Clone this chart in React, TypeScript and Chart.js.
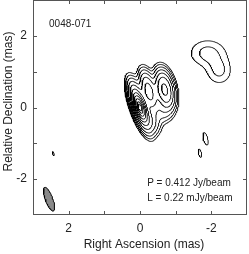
import React, { useEffect, useRef } from "react";
import { Chart, registerables } from "chart.js";

Chart.register(...registerables);

// ---------- text ----------
const xAxisTitle = "Right Ascension (mas)";
const yAxisTitle = "Relative Declination (mas)";
const annotationText = ["0048-071", "P = 0.412 Jy/beam", "L = 0.22 mJy/beam"];
const annotationX = [2.55, -0.2, -0.2];
const annotationY = [2.31, -2.12, -2.54];

// ---------- axes ----------
const axisMin = -3;
const axisMax = 3;
const tickValues = [-3, -2, -1, 0, 1, 2, 3];
const labeledTicks = [-2, 0, 2];

// ---------- contour levels (L x 2^n, mJy/beam) ----------
const lowestContour = 0.22;
const contourFactors = [1, 2, 4, 8, 16, 32, 64, 128, 256, 512, 1024];

// ---------- brightness model (mas, mJy/beam, deg) ----------
const compX = [0.0, 0.0, 0.0, -0.3, -0.25, -0.69, -0.64, -1.9, -2.22, -1.84, -1.68, 2.43];
const compY = [0.0, 0.0, 0.02, -0.35, 0.45, 0.5, -0.1, 1.52, 1.02, -0.87, -1.28, -1.29];
const compPeak = [250, 140, 22, 2.5, 10, 17, 1.2, 0.55, 0.5, 0.27, 0.24, 0.226];
const compMajor = [0.16, 0.38, 0.78, 0.5, 0.66, 0.62, 0.45, 0.59, 0.59, 0.64, 0.64, 0.64];
const compMinor = [0.07, 0.14, 0.24, 0.3, 0.26, 0.3, 0.35, 0.8, 0.55, 0.21, 0.21, 0.21];
const compPA = [19, 19, 19, 20, 15, 12, 0, 0, 0, 15, 15, 19];

// ---------- restoring beam ----------
const beamX = 2.55;
const beamY = -2.56;
const beamMajor = 0.7;
const beamMinor = 0.21;
const beamPA = 20;

const GRID_STEP = 0.015;
const FONT = '"Liberation Sans", Arial, sans-serif';

type P = { x: number; y: number };

function buildImage() {
  const n = Math.round((axisMax - axisMin) / GRID_STEP) + 1;
  const img = new Float64Array(n * n);
  for (let c = 0; c < compX.length; c++) {
    const sa = compMajor[c] / 2.3548;
    const sb = compMinor[c] / 2.3548;
    const th = (compPA[c] * Math.PI) / 180;
    const s = Math.sin(th);
    const co = Math.cos(th);
    const r = 5 * Math.max(sa, sb);
    const i0 = Math.max(0, Math.floor((compX[c] - r - axisMin) / GRID_STEP));
    const i1 = Math.min(n - 1, Math.ceil((compX[c] + r - axisMin) / GRID_STEP));
    const j0 = Math.max(0, Math.floor((compY[c] - r - axisMin) / GRID_STEP));
    const j1 = Math.min(n - 1, Math.ceil((compY[c] + r - axisMin) / GRID_STEP));
    for (let j = j0; j <= j1; j++) {
      const dy = axisMin + j * GRID_STEP - compY[c];
      for (let i = i0; i <= i1; i++) {
        const dx = axisMin + i * GRID_STEP - compX[c];
        const a = dx * s + dy * co;
        const b = dx * co - dy * s;
        img[j * n + i] += compPeak[c] * Math.exp(-0.5 * ((a * a) / (sa * sa) + (b * b) / (sb * sb)));
      }
    }
  }
  return { img, n };
}

function contourLines(img: Float64Array, n: number, level: number): P[][] {
  const pts = new Map<number, P>();
  const adj = new Map<number, number[]>();
  const val = (i: number, j: number) => img[j * n + i];
  const hKey = (i: number, j: number) => (j * n + i) * 2;
  const vKey = (i: number, j: number) => (j * n + i) * 2 + 1;
  const pointFor = (key: number): P => {
    let p = pts.get(key);
    if (p) return p;
    const cell = key >> 1;
    const i = cell % n;
    const j = Math.floor(cell / n);
    if ((key & 1) === 0) {
      const v0 = val(i, j);
      const v1 = val(i + 1, j);
      const t = (level - v0) / (v1 - v0);
      p = { x: axisMin + (i + t) * GRID_STEP, y: axisMin + j * GRID_STEP };
    } else {
      const v0 = val(i, j);
      const v1 = val(i, j + 1);
      const t = (level - v0) / (v1 - v0);
      p = { x: axisMin + i * GRID_STEP, y: axisMin + (j + t) * GRID_STEP };
    }
    pts.set(key, p);
    return p;
  };
  const link = (k1: number, k2: number) => {
    pointFor(k1);
    pointFor(k2);
    if (!adj.has(k1)) adj.set(k1, []);
    if (!adj.has(k2)) adj.set(k2, []);
    adj.get(k1)!.push(k2);
    adj.get(k2)!.push(k1);
  };
  for (let j = 0; j < n - 1; j++) {
    for (let i = 0; i < n - 1; i++) {
      const a = val(i, j), b = val(i + 1, j), c = val(i + 1, j + 1), d = val(i, j + 1);
      const A = a >= level, B = b >= level, C = c >= level, D = d >= level;
      if (A === B && B === C && C === D) continue;
      const e0 = hKey(i, j), e1 = vKey(i + 1, j), e2 = hKey(i, j + 1), e3 = vKey(i, j);
      const crossed: number[] = [];
      if (A !== B) crossed.push(e0);
      if (B !== C) crossed.push(e1);
      if (D !== C) crossed.push(e2);
      if (A !== D) crossed.push(e3);
      if (crossed.length === 2) {
        link(crossed[0], crossed[1]);
      } else if (crossed.length === 4) {
        const center = (a + b + c + d) / 4 >= level;
        if (center === A) {
          link(e0, e1);
          link(e2, e3);
        } else {
          link(e0, e3);
          link(e1, e2);
        }
      }
    }
  }
  const visited = new Set<number>();
  const lines: P[][] = [];
  const walk = (start: number) => {
    const keys = [start];
    visited.add(start);
    let cur = start;
    for (;;) {
      const nb = adj.get(cur)!;
      let next = -1;
      for (const k of nb) if (!visited.has(k)) { next = k; break; }
      if (next === -1) {
        if (keys.length > 2 && nb.includes(start)) keys.push(start);
        break;
      }
      visited.add(next);
      keys.push(next);
      cur = next;
    }
    lines.push(keys.map((k) => pts.get(k)!));
  };
  for (const [k, nb] of adj) if (nb.length === 1 && !visited.has(k)) walk(k);
  for (const k of adj.keys()) if (!visited.has(k)) walk(k);
  return lines;
}

function beamOutline(): P[] {
  const th = (beamPA * Math.PI) / 180;
  const s = Math.sin(th), c = Math.cos(th);
  const a = beamMajor / 2, b = beamMinor / 2;
  const out: P[] = [];
  for (let k = 0; k <= 60; k++) {
    const t = (k / 60) * Math.PI * 2;
    const u = a * Math.cos(t), v = b * Math.sin(t);
    out.push({ x: beamX + u * s + v * c, y: beamY + u * c - v * s });
  }
  return out;
}

const framePlugin = {
  id: "frameTicksText",
  afterDraw(chart: any) {
    const { ctx, chartArea, scales } = chart;
    const { left, right, top, bottom } = chartArea;
    const xs = scales.x, ys = scales.y;
    ctx.save();
    ctx.strokeStyle = "#555";
    ctx.lineWidth = 1;
    ctx.strokeRect(left + 0.5, top + 0.5, right - left - 1, bottom - top - 1);
    ctx.beginPath();
    for (const v of tickValues) {
      if (v === axisMin || v === axisMax) continue;
      const px = Math.round(xs.getPixelForValue(v)) + 0.5;
      ctx.moveTo(px, bottom);
      ctx.lineTo(px, bottom - 4);
      ctx.moveTo(px, top);
      ctx.lineTo(px, top + 4);
      const py = Math.round(ys.getPixelForValue(v)) + 0.5;
      ctx.moveTo(left, py);
      ctx.lineTo(left + 4, py);
      ctx.moveTo(right, py);
      ctx.lineTo(right - 4, py);
    }
    ctx.stroke();
    ctx.fillStyle = "#222";
    ctx.font = `10px ${FONT}`;
    ctx.textAlign = "left";
    ctx.textBaseline = "middle";
    for (let k = 0; k < annotationText.length; k++) {
      ctx.fillText(annotationText[k], xs.getPixelForValue(annotationX[k]), ys.getPixelForValue(annotationY[k]));
    }
    // axis titles
    ctx.font = `12px ${FONT}`;
    ctx.textAlign = "center";
    ctx.fillText(xAxisTitle, (left + right) / 2 + 4, 245);
    ctx.translate(8.5, (top + bottom) / 2 - 6);
    ctx.rotate(-Math.PI / 2);
    ctx.fillText(yAxisTitle, 0, 0);
    ctx.restore();
  },
};

export default function App() {
  const ref = useRef<HTMLCanvasElement>(null);
  useEffect(() => {
    if (!ref.current) return;
    const { img, n } = buildImage();
    const datasets: any[] = [];
    for (const f of contourFactors) {
      const lines = contourLines(img, n, lowestContour * f);
      for (const line of lines) {
        datasets.push({
          data: line,
          showLine: true,
          borderColor: "#000",
          borderWidth: 0.9,
          pointRadius: 0,
          fill: false,
          tension: 0,
        });
      }
    }
    datasets.push({
      data: beamOutline(),
      showLine: true,
      borderColor: "#000",
      borderWidth: 1,
      backgroundColor: "#8a8a8a",
      pointRadius: 0,
      fill: "shape",
      tension: 0,
    });
    const chart = new Chart(ref.current, {
      type: "scatter",
      data: { datasets },
      options: {
        animation: false,
        responsive: false,
        events: [],
        layout: { padding: { top: 0, right: 2, left: 0, bottom: 0 } },
        plugins: { legend: { display: false }, tooltip: { enabled: false } },
        scales: {
          x: {
            type: "linear",
            min: axisMin,
            max: axisMax,
            reverse: true,
            grid: { display: false, drawTicks: false },
            border: { display: false },
            afterBuildTicks: (scale: any) => {
              scale.ticks = labeledTicks.map((v) => ({ value: v }));
            },
            afterFit: (scale: any) => {
              scale.height = 39;
              scale.paddingLeft = 0;
              scale.paddingRight = 0;
            },
            ticks: {
              padding: 6,
              color: "#222",
              font: { family: FONT, size: 12 },
              callback: (v: any) => String(v),
            },
            title: { display: false, text: xAxisTitle },
          },
          y: {
            type: "linear",
            min: axisMin,
            max: axisMax,
            grid: { display: false, drawTicks: false },
            border: { display: false },
            afterBuildTicks: (scale: any) => {
              scale.ticks = labeledTicks.map((v) => ({ value: v }));
            },
            afterFit: (scale: any) => {
              scale.width = 33;
              scale.paddingTop = 0;
              scale.paddingBottom = 0;
            },
            ticks: {
              padding: 6,
              color: "#222",
              font: { family: FONT, size: 12 },
              callback: (v: any) => String(v),
            },
            title: { display: false, text: yAxisTitle },
          },
        },
      },
      plugins: [framePlugin],
    });
    return () => chart.destroy();
  }, []);
  return (
    <div style={{ position: "fixed", left: 0, top: 0, width: 249, height: 254, background: "#fff" }}>
      <canvas ref={ref} width={249} height={254} />
    </div>
  );
}
